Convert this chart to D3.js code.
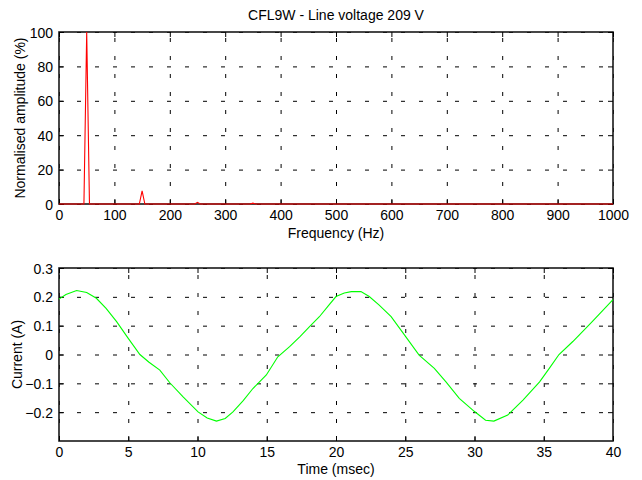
<!DOCTYPE html>
<html>
<head>
<meta charset="utf-8">
<script src="https://cdn.jsdelivr.net/npm/d3@7"></script>
<style>
  body { margin: 0; background: #fff; }
  svg { display: block; font-family: "Liberation Sans", Arial, sans-serif; }
  .grid line { stroke: #000; stroke-dasharray: 4 14; stroke-width: 1; }
  .grid path { display: none; }
  .tick text { font-size: 14px; fill: #000; }
</style>
</head>
<body>
<svg id="chart" width="642" height="480"></svg>
<script>
// spectrum (top panel)
const freqHz = [0, 45, 50, 55, 145, 150, 155, 245, 250, 255, 345, 350, 355, 1000];
const ampPct = [0, 0, 100, 0, 0, 7.6, 0, 0, 1.0, 0, 0, 0.5, 0, 0];
const freqTicks = [0, 100, 200, 300, 400, 500, 600, 700, 800, 900, 1000];
const ampTicks = [0, 20, 40, 60, 80, 100];

// current waveform (bottom panel)
const timeMs = [0, 0.5, 1.27, 2.0, 2.7, 3.4, 4.16, 5.0, 5.84, 6.5, 7.28, 8.0, 8.96, 10.04, 10.7,
  11.37, 12.0, 12.56, 13.3, 14.0, 14.97, 15.8, 16.65, 17.4, 18.09, 18.8, 19.5, 20.0, 20.6, 21.1,
  21.8, 22.4, 23.1, 23.98, 24.94, 26.0, 27.1, 27.94, 28.9, 29.98, 30.8, 31.4, 32.4, 33.5, 34.7,
  35.4, 36.1, 37.1, 38.5, 40];
const currentA = [0.192, 0.208, 0.222, 0.215, 0.195, 0.16, 0.114, 0.056, 0.0, -0.027, -0.054, -0.098, -0.147, -0.199, -0.22,
  -0.231, -0.222, -0.199, -0.16, -0.118, -0.071, -0.008, 0.027, 0.062, 0.097, 0.131, 0.172, 0.201, 0.213, 0.218,
  0.218, 0.201, 0.172, 0.131, 0.068, -0.002, -0.048, -0.095, -0.152, -0.197, -0.228, -0.231, -0.21, -0.158, -0.095,
  -0.048, 0.0, 0.045, 0.114, 0.19];
const timeTicks = [0, 5, 10, 15, 20, 25, 30, 35, 40];
const currentTicks = [-0.2, -0.1, 0, 0.1, 0.2, 0.3];

const svg = d3.select("#chart");

// draws one matlab-style panel
function panel(opts) {
  const { left, right, top, bottom } = opts;
  const x = d3.scaleLinear().domain(opts.xDomain).range([left, right]);
  const y = d3.scaleLinear().domain(opts.yDomain).range([bottom, top]);
  const g = svg.append("g");

  // dashed grid
  g.append("g").attr("class", "grid")
    .attr("transform", `translate(0,${bottom})`)
    .call(d3.axisBottom(x).tickValues(opts.xTicks).tickSize(-(bottom - top)).tickFormat(""));
  g.append("g").attr("class", "grid")
    .attr("transform", `translate(${left},0)`)
    .call(d3.axisLeft(y).tickValues(opts.yTicks).tickSize(-(right - left)).tickFormat(""));

  // box
  g.append("rect")
    .attr("x", left).attr("y", top)
    .attr("width", right - left).attr("height", bottom - top)
    .attr("fill", "none").attr("stroke", "#1a1a1a").attr("stroke-width", 1.6);

  // ticks inward on all four sides, labels bottom and left
  const xb = g.append("g").attr("transform", `translate(0,${bottom})`)
    .call(d3.axisBottom(x).tickValues(opts.xTicks).tickSizeInner(-5).tickSizeOuter(0).tickFormat(opts.xFormat));
  xb.select(".domain").remove();
  xb.selectAll(".tick line").attr("stroke", "#000");
  xb.selectAll(".tick text").attr("y", 16).attr("dy", null);

  const xt = g.append("g").attr("transform", `translate(0,${top})`)
    .call(d3.axisTop(x).tickValues(opts.xTicks).tickSizeInner(-5).tickSizeOuter(0).tickFormat(""));
  xt.select(".domain").remove();

  const yl = g.append("g").attr("transform", `translate(${left},0)`)
    .call(d3.axisLeft(y).tickValues(opts.yTicks).tickSizeInner(-5).tickSizeOuter(0).tickFormat(opts.yFormat));
  yl.select(".domain").remove();
  yl.selectAll(".tick text").attr("x", -6).attr("dy", "0.36em");

  const yr = g.append("g").attr("transform", `translate(${right},0)`)
    .call(d3.axisRight(y).tickValues(opts.yTicks).tickSizeInner(-5).tickSizeOuter(0).tickFormat(""));
  yr.select(".domain").remove();

  // data line on top of the axes, like matlab
  const pts = d3.zip(opts.xs, opts.ys);
  g.append("path")
    .datum(pts)
    .attr("fill", "none")
    .attr("stroke", opts.color)
    .attr("stroke-width", 1.1)
    .attr("d", d3.line().x(d => x(d[0])).y(d => y(d[1])));

  // axis titles
  g.append("text")
    .attr("x", (left + right) / 2).attr("y", opts.xLabelY)
    .attr("text-anchor", "middle").attr("font-size", 14)
    .text(opts.xLabel);
  g.append("text")
    .attr("transform", `translate(${opts.yLabelX},${(top + bottom) / 2}) rotate(-90)`)
    .attr("text-anchor", "middle").attr("font-size", 14)
    .text(opts.yLabel);
  return g;
}

panel({
  left: 59, right: 613, top: 32, bottom: 204,
  xDomain: [0, 1000], yDomain: [0, 100],
  xTicks: freqTicks, yTicks: ampTicks,
  xFormat: d3.format("d"), yFormat: d3.format("d"),
  xs: freqHz, ys: ampPct, color: "#ff0000",
  xLabel: "Frequency (Hz)", xLabelY: 238,
  yLabel: "Normalised amplitude (%)", yLabelX: 25
});

panel({
  left: 59, right: 613, top: 268, bottom: 441,
  xDomain: [0, 40], yDomain: [-0.3, 0.3],
  xTicks: timeTicks, yTicks: currentTicks,
  xFormat: d3.format("d"), yFormat: d => d === 0 ? "0" : d3.format(".1f")(d),
  xs: timeMs, ys: currentA, color: "#00ff00",
  xLabel: "Time (msec)", xLabelY: 474,
  yLabel: "Current (A)", yLabelX: 22
});

svg.append("text")
  .attr("x", 336).attr("y", 20)
  .attr("text-anchor", "middle").attr("font-size", 14)
  .text("CFL9W - Line voltage 209 V");
</script>
</body>
</html>
